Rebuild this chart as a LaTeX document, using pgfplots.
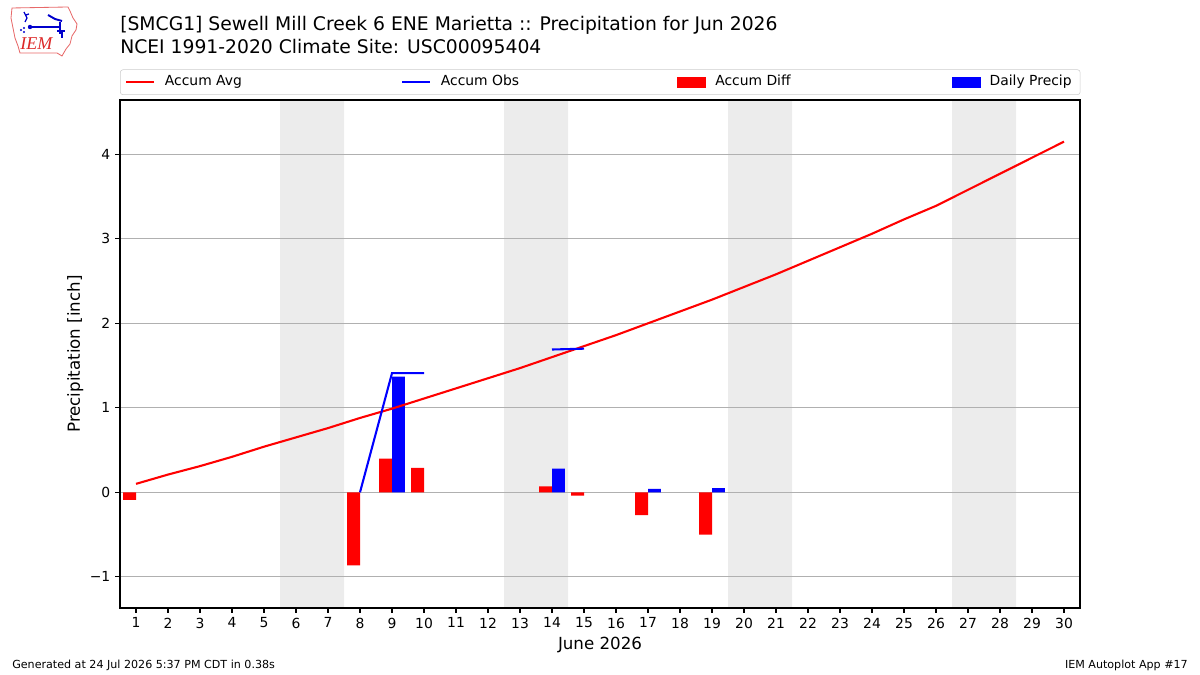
\documentclass[border=0pt]{standalone}
\usepackage{fontspec}
\setmainfont{DejaVu Sans}
\newfontfamily\serifit{Liberation Serif}
\usepackage{pgfplots}
\pgfplotsset{compat=1.18}
\definecolor{wkend}{RGB}{236,236,236}
\definecolor{gridc}{RGB}{176,176,176}
\definecolor{legc}{RGB}{204,204,204}
\definecolor{logored}{RGB}{220,40,40}

\begin{document}
\begin{tikzpicture}
\path (0,0) rectangle (864pt,486pt);
\begin{axis}[
  at={(86.4pt,48.24pt)}, anchor=south west,
  scale only axis, width=691.2pt, height=365.76pt,
  xmin=0.5, xmax=30.5, ymin=-1.369, ymax=4.643,
  xtick={1,...,30}, ytick={-1,0,1,2,3,4}, yticklabels={−1,0,1,2,3,4},
  tick pos=left, tick align=outside, major tick length=3.5pt,
  every tick/.style={black, line width=0.8pt},
  axis line style={line width=0.8pt},
  ymajorgrids, grid style={gridc, line width=0.8pt},
  tick label style={font=\fontsize{10}{12}\selectfont},
  /pgf/number format/assume math mode=true,
  set layers=standard,
  xlabel={June 2026}, ylabel={Precipitation [inch]},
  label style={font=\fontsize{12}{14}\selectfont},
  xlabel style={at={(axis description cs:0.5,0)}, anchor=base, yshift=-30.24pt},
  ylabel style={at={(axis description cs:-0.041667,0.5)}, anchor=base},
  legend columns=4,
  legend cell align=left,
  legend style={at={(0,1)}, anchor=south west, yshift=3.6pt, draw=legc, rounded corners=2pt, fill=white,
    inner xsep=3.6pt, inner ysep=4pt, font=\fontsize{10}{12}\selectfont,
    nodes={inner xsep=0pt, inner ysep=0pt, text height=7.5pt, text depth=2.5pt},
    /tikz/every odd column/.style={column sep=6.9pt}},
]
% weekend shading
\addplot[fill=wkend, draw=none, forget plot, on layer=axis background] coordinates {(5.5,-1.369) (5.5,4.643) (7.5,4.643) (7.5,-1.369) (5.5,-1.369)};
\addplot[fill=wkend, draw=none, forget plot, on layer=axis background] coordinates {(12.5,-1.369) (12.5,4.643) (14.5,4.643) (14.5,-1.369) (12.5,-1.369)};
\addplot[fill=wkend, draw=none, forget plot, on layer=axis background] coordinates {(19.5,-1.369) (19.5,4.643) (21.5,4.643) (21.5,-1.369) (19.5,-1.369)};
\addplot[fill=wkend, draw=none, forget plot, on layer=axis background] coordinates {(26.5,-1.369) (26.5,4.643) (28.5,4.643) (28.5,-1.369) (26.5,-1.369)};
% Accum Diff bars
\addplot[ybar, bar width=0.4, bar shift=-0.2, fill=red, draw=none, forget plot] coordinates {
(1,-0.09) (8,-0.865) (9,0.40) (10,0.29) (14,0.07) (15,-0.04) (17,-0.27) (19,-0.50)};
% Daily Precip bars
\addplot[ybar, bar width=0.4, bar shift=0.2, fill=blue, draw=none, forget plot] coordinates {
(9,1.37) (14,0.28) (17,0.04) (19,0.05)};
% Accum Avg
\addplot[red, line width=1.5pt, forget plot] coordinates {
(1,0.10) (2,0.21) (3,0.31) (4,0.42) (5,0.54) (6,0.65) (7,0.76) (8,0.88) (9,0.99) (10,1.11)
(11,1.23) (12,1.35) (13,1.47) (14,1.60) (15,1.73) (16,1.86) (17,2.00) (18,2.14) (19,2.28) (20,2.43)
(21,2.58) (22,2.74) (23,2.90) (24,3.06) (25,3.23) (26,3.39) (27,3.58) (28,3.77) (29,3.96) (30,4.15)};
% Accum Obs
\addplot[blue, line width=1.5pt, unbounded coords=jump, forget plot] coordinates {
(8,0) (9,1.41) (10,1.41) (11,nan) (14,1.69) (15,1.70)};
\addlegendimage{legend image code/.code={\draw[red, line width=1.5pt, sharp corners] (0pt,0pt) -- (20.16pt,0pt);}}
\addlegendentry{\makebox[170.1pt][l]{Accum Avg}}
\addlegendimage{legend image code/.code={\draw[blue, line width=1.5pt, sharp corners] (0pt,0pt) -- (20.16pt,0pt);}}
\addlegendentry{\makebox[170.1pt][l]{Accum Obs}}
\addlegendimage{legend image code/.code={\fill[red, sharp corners] (0pt,-3.6pt) rectangle (20.16pt,3.6pt);}}
\addlegendentry{\makebox[170.1pt][l]{Accum Diff}}
\addlegendimage{legend image code/.code={\fill[blue, sharp corners] (0pt,-3.6pt) rectangle (20.16pt,3.6pt);}}
\addlegendentry{\makebox[61.6pt][l]{Daily Precip}}
\end{axis}
\begin{scope}[shift={(0,486pt)}, x=0.72pt, y=-0.72pt]
  % title
  \node[anchor=base west, inner sep=0pt, font=\fontsize{13.5}{16}\selectfont] at (120,31) {[SMCG1] Sewell Mill Creek 6 ENE Marietta :: Precipitation for Jun 2026};
  \node[anchor=base west, inner sep=0pt, font=\fontsize{13.5}{16}\selectfont] at (120,54) {NCEI 1991-2020 Climate Site: USC00095404};
  % footer
  \node[anchor=base west, inner sep=0pt, font=\fontsize{8}{10}\selectfont] at (12,669) {Generated at 24 Jul 2026 5:37 PM CDT in 0.38s};
  \node[anchor=base east, inner sep=0pt, font=\fontsize{8}{10}\selectfont] at (1188,669) {IEM Autoplot App \#17};
  % logo
  \draw[logored!70, line width=0.6pt] (12,8) -- (68,7) -- (70,11) -- (73,18) -- (77,24) -- (76,30) -- (72,36) -- (70,44) -- (66,49) -- (62,56) -- (57,53) -- (20,53) -- (18,46) -- (15,38) -- (13,28) -- (11,18) -- cycle;
  \node[anchor=base west, inner sep=0pt, text=logored, font=\fontsize{13}{14}\serifit\itshape] at (20,50) {IEM};
  \draw[blue!80!black, line width=1.2pt] (30,27) -- (60,27);
  \fill[blue!80!black] (30,27) circle (2.2);
  \draw[blue!80!black, line width=0.9pt] (24,12) -- (27,18) -- (25,22) (26,15) -- (29,14);
  \draw[blue!80!black, line width=1.4pt] (48,15) -- (55,19) -- (62,21);
  \draw[blue!80!black, line width=0.8pt] (60,22) -- (60,34) (62,31) -- (62,38) (57,31) -- (65,31);
  \fill[blue!80!black] (24,28) circle (1.1) (21,30) circle (1.1) (24,32) circle (1.1);
\end{scope}
\end{tikzpicture}
\end{document}
